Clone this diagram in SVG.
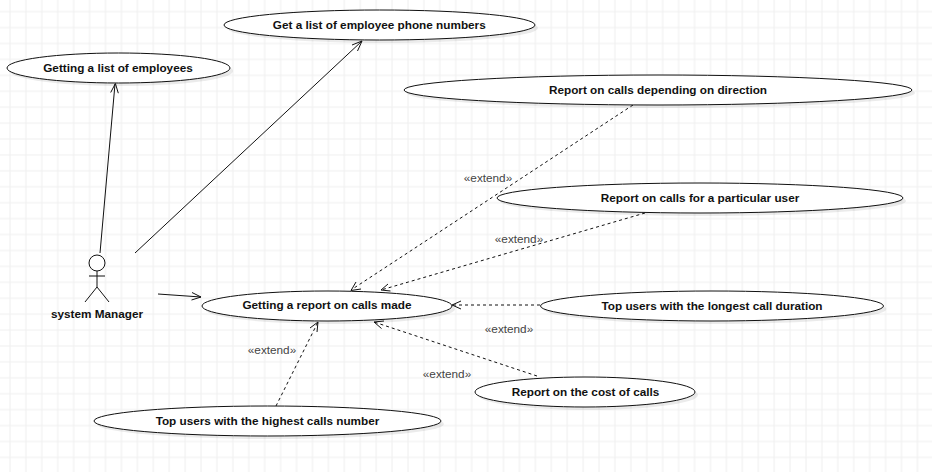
<svg xmlns="http://www.w3.org/2000/svg" width="932" height="472" viewBox="0 0 932 472">
<style>
.u{fill:#fff;stroke:#111;stroke-width:1}
.sh{fill:#000;fill-opacity:.08;stroke:none}
.t{font:bold 11.75px "Liberation Sans",Arial,sans-serif;fill:#111;text-anchor:middle}
.e{font:11.75px "Liberation Sans",Arial,sans-serif;fill:#444;text-anchor:middle}
.c{fill:none;stroke:#111;stroke-width:1}
.d{stroke-dasharray:3 3}
.a{fill:none;stroke:#111;stroke-width:1;stroke-linejoin:round}
</style>
<defs>
<pattern id="g" width="15.92" height="15.92" patternUnits="userSpaceOnUse" x="2" y="3.7">
<path d="M8 0V15.920M0 8H15.920" fill="none" stroke="#f0f0f0" stroke-width="1.1"/>
</pattern>
</defs>
<rect width="932" height="472" fill="#fff"/>
<rect width="932" height="472" fill="url(#g)"/>
<g id="connectors">
<path class="c" d="M100 253L115 84"/><path class="a" d="M110.700 92.500L115.400 83.500L118.300 93.200"/>
<path class="c" d="M135 253L362 41"/><path class="a" d="M352 45L362 41L357.500 51"/>
<path class="c" d="M158 294L201 297"/><path class="a" d="M192 292.500L201 297L191.500 300"/>
<path class="c d" d="M633 105L351 290"/><path class="a" d="M356 282L351 290.500L361 289"/>
<path class="c d" d="M645 213L381 290"/><path class="a" d="M388 284L381 290L390.500 291"/>
<path class="c d" d="M540 305L452 305"/><path class="a" d="M461 301L452 305L461 309"/>
<path class="c d" d="M537 376L374 322"/><path class="a" d="M384 321L374 322L381.500 328.500"/>
<path class="c d" d="M276 406L318 322"/><path class="a" d="M310 328L318 322L317 332"/>
</g>
<g id="lb">
<text class="e" x="488" y="182">«extend»</text>
<text class="e" x="519" y="243">«extend»</text>
<text class="e" x="509" y="333">«extend»</text>
<text class="e" x="447" y="378">«extend»</text>
<text class="e" x="272" y="354">«extend»</text>
</g>
<g id="actor">
<circle cx="97" cy="263" r="8" fill="#fff" stroke="#111"/>
<path class="c" d="M97 271V287M89 276H105M85 302L97 287L109 302"/>
<text class="t" x="97" y="317.500">system Manager</text>
</g>
<g id="n1"><ellipse class="sh" cx="382.500" cy="28" rx="155.500" ry="15"/><ellipse class="u" cx="379.500" cy="25" rx="155.500" ry="15"/><text class="t" x="379.300" y="28.500">Get a list of employee phone numbers</text></g>
<g id="n2"><ellipse class="sh" cx="121.500" cy="71" rx="111.500" ry="15"/><ellipse class="u" cx="118.500" cy="68" rx="111.500" ry="15"/><text class="t" x="118" y="71.500">Getting a list of employees</text></g>
<g id="n3"><ellipse class="sh" cx="661" cy="93" rx="254" ry="15"/><ellipse class="u" cx="658" cy="90" rx="254" ry="15"/><text class="t" x="658" y="93.500">Report on calls depending on direction</text></g>
<g id="n4"><ellipse class="sh" cx="703" cy="201" rx="203" ry="15"/><ellipse class="u" cx="700" cy="198" rx="203" ry="15"/><text class="t" x="700" y="201.500">Report on calls for a particular user</text></g>
<g id="n5"><ellipse class="sh" cx="330" cy="309" rx="125" ry="15"/><ellipse class="u" cx="327" cy="306" rx="125" ry="15"/><text class="t" x="327" y="309">Getting a report on calls made</text></g>
<g id="n6"><ellipse class="sh" cx="715" cy="309" rx="171.500" ry="15"/><ellipse class="u" cx="712" cy="306" rx="171.500" ry="15"/><text class="t" x="712" y="309.500">Top users with the longest call duration</text></g>
<g id="n7"><ellipse class="sh" cx="588" cy="395" rx="110" ry="15"/><ellipse class="u" cx="585" cy="392" rx="110" ry="15"/><text class="t" x="585.500" y="395.500">Report on the cost of calls</text></g>
<g id="n8"><ellipse class="sh" cx="270.500" cy="424" rx="173.500" ry="15"/><ellipse class="u" cx="267.500" cy="421" rx="173.500" ry="15"/><text class="t" x="267.500" y="424.500">Top users with the highest calls number</text></g>
</svg>
